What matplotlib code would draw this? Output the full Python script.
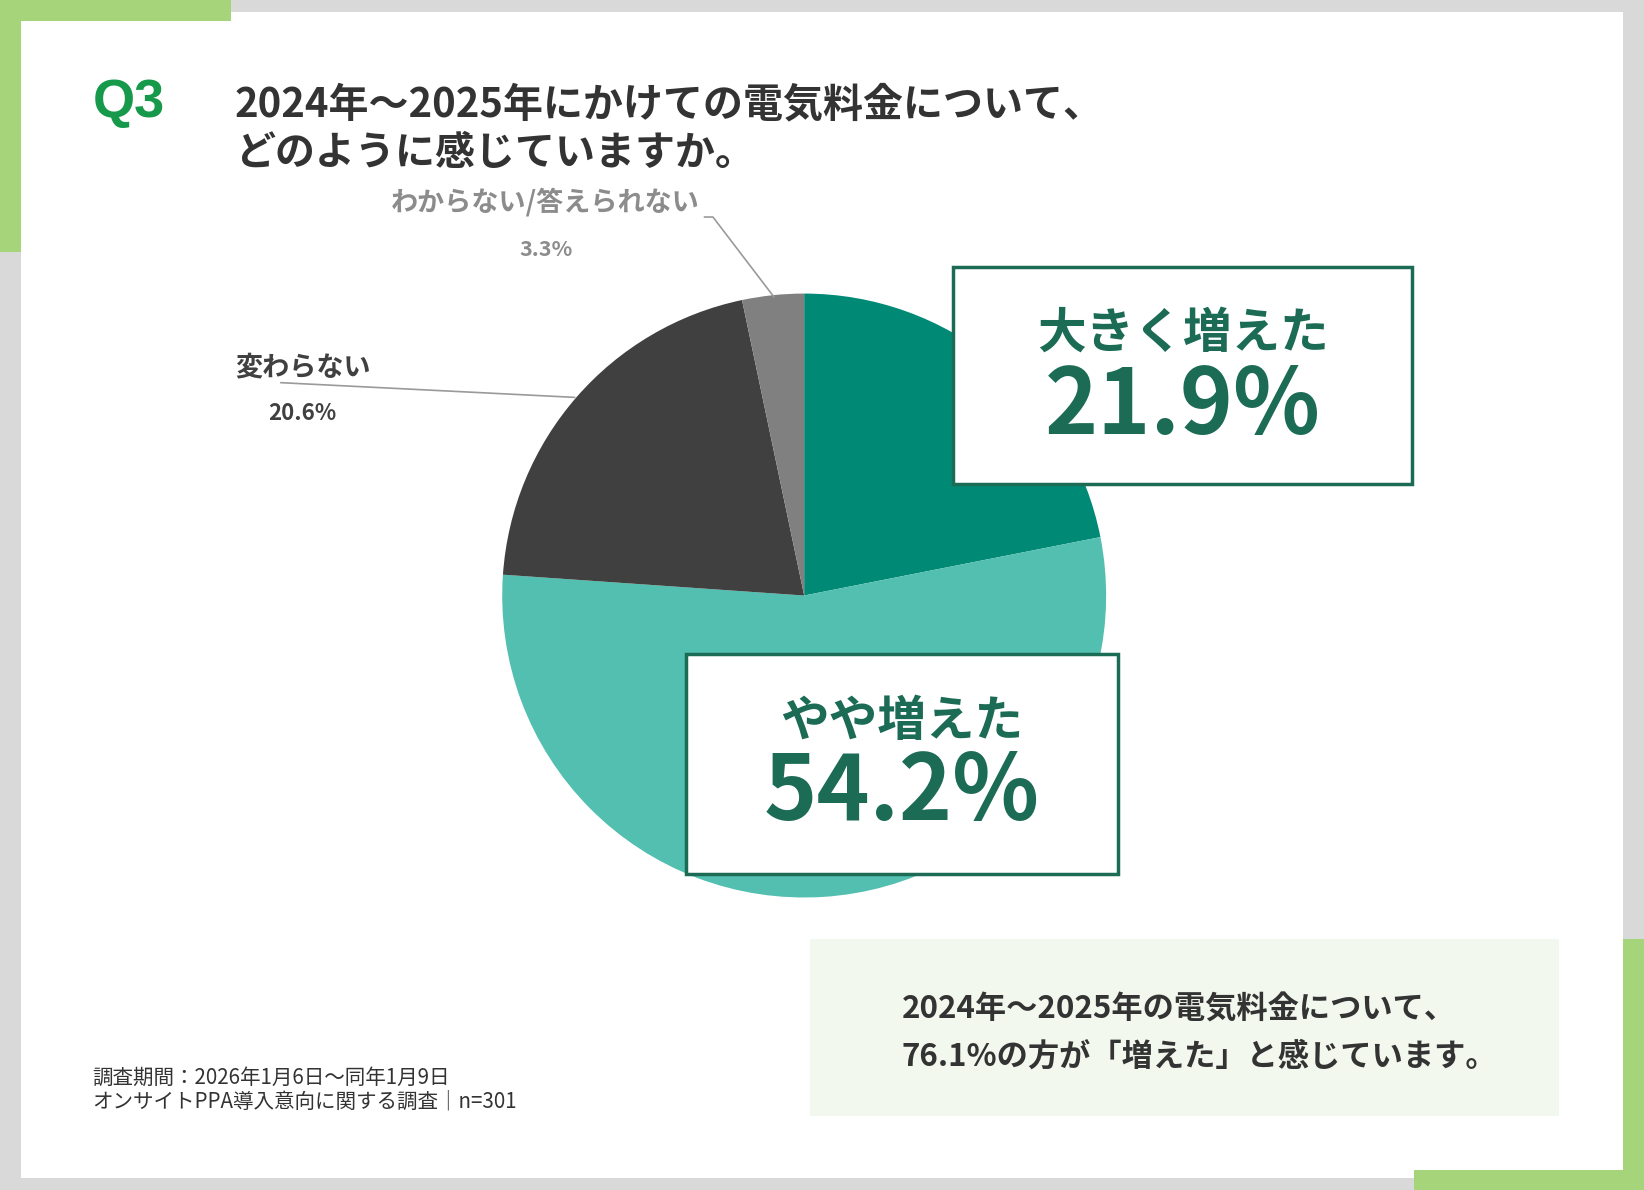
import matplotlib
matplotlib.use("Agg")
import matplotlib.pyplot as plt
from matplotlib.patches import Rectangle

plt.rcParams['font.family'] = ['Noto Sans CJK JP', 'DejaVu Sans']

# ---- data ----
categories = ["大きく増えた", "やや増えた", "変わらない", "わからない/答えられない"]
values = [21.9, 54.2, 20.6, 3.3]
value_labels = ["21.9%", "54.2%", "20.6%", "3.3%"]
colors = ["#008a76", "#52bfb0", "#404040", "#808080"]

title_q = "Q3"
title_lines = ["2024年～2025年にかけての電気料金について、", "どのように感じていますか。"]
summary_lines = ["2024年～2025年の電気料金について、", "76.1%の方が「増えた」と感じています。"]
footnote_lines = ["調査期間：2026年1月6日～同年1月9日", "オンサイトPPA導入意向に関する調査│n=301"]

W, H = 1644, 1190
S = 1644 / 1568.0

def X(x):
    return x * S

def Y(y):
    return H - y * S

fig = plt.figure(figsize=(W / 100, H / 100), dpi=100)
ax = fig.add_axes([0, 0, 1, 1])

GREEN = "#a5d47a"
GRAY = "#d9d9d9"
DARKG = "#1b6b55"

# pie
cx, cy, r = X(767), Y(568), 288 * S
ax.pie(values, colors=colors, startangle=90, counterclock=False,
       center=(cx, cy), radius=r, wedgeprops=dict(linewidth=0), frame=True)

ax.set_xlim(0, W)
ax.set_ylim(0, H)
ax.set_aspect('auto')
ax.axis('off')

# background frame
ax.add_patch(Rectangle((0, 0), W, H, facecolor=GRAY, edgecolor='none', zorder=-10))
ax.add_patch(Rectangle((21, H - 1178), 1623 - 21, 1178 - 12, facecolor='white', edgecolor='none', zorder=-9))
# green corners
ax.add_patch(Rectangle((0, H - 21), 231, 21, facecolor=GREEN, edgecolor='none', zorder=-8))
ax.add_patch(Rectangle((0, H - 252), 21, 252, facecolor=GREEN, edgecolor='none', zorder=-8))
ax.add_patch(Rectangle((1623, 0), 21, 1190 - 939, facecolor=GREEN, edgecolor='none', zorder=-8))
ax.add_patch(Rectangle((1414, 0), 1644 - 1414, 1190 - 1170, facecolor=GREEN, edgecolor='none', zorder=-8))

# title
ax.text(X(88), Y(98), title_q, color="#16994a", fontsize=39, fontweight='bold',
        family=['Liberation Sans', 'DejaVu Sans'], ha='left', va='center')
ax.text(X(224), Y(100), title_lines[0], color="#333333", fontsize=28.8, fontweight='bold',
        ha='left', va='center')
ax.text(X(224), Y(146), title_lines[1], color="#333333", fontsize=28.8, fontweight='bold',
        ha='left', va='center')

# boxes with big labels
def big_box(x0, y0, x1, y1, label, val, ly, vy):
    ax.add_patch(Rectangle((X(x0), Y(y1)), X(x1) - X(x0), Y(y0) - Y(y1), facecolor='white',
                           edgecolor=DARKG, linewidth=2.5, zorder=5))
    xc = (X(x0) + X(x1)) / 2
    ax.text(xc, Y(ly), label, color=DARKG, fontsize=35, fontweight='bold',
            ha='center', va='center', zorder=6)
    ax.text(xc, Y(vy), val, color=DARKG, fontsize=65, fontweight='bold',
            ha='center', va='center', zorder=6)

big_box(909, 255, 1347, 462, categories[0], value_labels[0], 318, 388)
big_box(654, 624, 1066, 834, categories[1], value_labels[1], 688, 757)

# small labels with leader lines
ax.text(X(520), Y(193), categories[3], color="#8c8c8c", fontsize=19.5, fontweight='bold',
        ha='center', va='center')
ax.text(X(521), Y(238), value_labels[3], color="#8c8c8c", fontsize=15.5, fontweight='bold',
        ha='center', va='center')
ax.plot([X(672), X(680), X(738)], [Y(207), Y(207), Y(283)], color="#9a9a9a", lw=1.2)

ax.text(X(224), Y(350), categories[2], color="#404040", fontsize=19.5, fontweight='bold',
        ha='left', va='center')
ax.text(X(288), Y(394), value_labels[2], color="#404040", fontsize=16, fontweight='bold',
        ha='center', va='center')
ax.plot([X(268), X(548)], [Y(365), Y(379)], color="#9a9a9a", lw=1.2)

# summary box
ax.add_patch(Rectangle((X(773), Y(1064)), X(1487) - X(773), Y(896) - Y(1064),
                       facecolor="#f3f8ee", edgecolor='none', zorder=1))
ax.text(X(860), Y(963), summary_lines[0], color="#333333", fontsize=22.5, fontweight='bold',
        ha='left', va='center', zorder=2)
ax.text(X(860), Y(1008), summary_lines[1], color="#333333", fontsize=22.5, fontweight='bold',
        ha='left', va='center', zorder=2)

# footnote
ax.text(X(88), Y(1028), footnote_lines[0], color="#333333", fontsize=14.8,
        ha='left', va='center')
ax.text(X(88), Y(1051), footnote_lines[1], color="#333333", fontsize=14.8,
        ha='left', va='center')

fig.savefig("out.png", dpi=100)
